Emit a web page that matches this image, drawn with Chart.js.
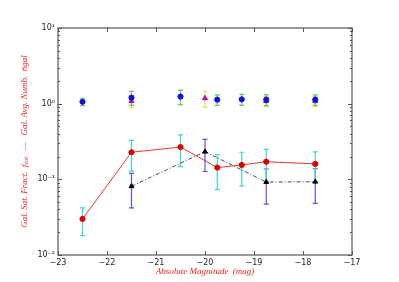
<!DOCTYPE html>
<html>
<head>
<meta charset="utf-8">
<script src="https://cdn.jsdelivr.net/npm/chart.js@4.4.1/dist/chart.umd.min.js"></script>
<style>
  html, body { margin: 0; padding: 0; background: #fff; }
  #wrap { width: 399px; height: 282px; }
</style>
</head>
<body>
<div id="wrap"><canvas id="c"></canvas></div>
<script>
// satellite fraction, circles (red)
const fracMag = [-22.5, -21.5, -20.5, -19.75, -19.25, -18.75, -17.75]
const fracVal = [0.030, 0.228, 0.267, 0.143, 0.155, 0.171, 0.160]
const fracErr = [0.012, 0.100, 0.120, 0.070, 0.073, 0.078, 0.070]

// satellite fraction, triangles (black dash-dot)
const fracTriMag = [-21.5, -20.0, -18.75, -17.75]
const fracTriVal = [0.081, 0.232, 0.092, 0.093]
const fracTriErr = [0.039, 0.105, 0.045, 0.045]

// average galaxy number, circles (blue)
const numMag = [-22.5, -21.5, -20.5, -19.75, -19.25, -18.75, -17.75]
const numVal = [1.06, 1.20, 1.24, 1.13, 1.14, 1.13, 1.13]
const numErr = [0.12, 0.25, 0.27, 0.18, 0.19, 0.19, 0.18]

// average galaxy number, triangles (purple)
const numTriMag = [-21.5, -20.0, -18.75, -17.75]
const numTriVal = [1.08, 1.18, 1.08, 1.08]
const numTriErr = [0.20, 0.28, 0.17, 0.17]

const xTicks = [-23, -22, -21, -20, -19, -18, -17]
const yTicks = [0.01, 0.1, 1, 10]
const yTickLabels = ['10\u207B\u00B2', '10\u207B\u00B9', '10\u2070', '10\u00B9']

const pts = (xs, ys) => xs.map((x, i) => ({ x: x, y: ys[i] }))

// draws vertical error bars with caps, behind the markers
const errorBars = {
  id: 'errorBars',
  beforeDatasetsDraw(chart) {
    const ctx = chart.ctx
    const xs = chart.scales.x, ys = chart.scales.y
    chart.data.datasets.forEach(ds => {
      if (!ds.errors) return
      ctx.save()
      ctx.strokeStyle = ds.errorColor
      ctx.lineWidth = 1.2
      ds.data.forEach((p, i) => {
        const e = ds.errors[i]
        const px = xs.getPixelForValue(p.x)
        const top = ys.getPixelForValue(p.y + e)
        const bot = ys.getPixelForValue(Math.max(p.y - e, 0.0011))
        ctx.beginPath()
        ctx.moveTo(px, top); ctx.lineTo(px, bot)
        ctx.moveTo(px - 2.5, top); ctx.lineTo(px + 2.5, top)
        ctx.moveTo(px - 2.5, bot); ctx.lineTo(px + 2.5, bot)
        ctx.stroke()
      })
      ctx.restore()
    })
  }
}

// matplotlib-like frame with inward ticks on all four sides
const frame = {
  id: 'frame',
  afterDraw(chart) {
    const ctx = chart.ctx
    const a = chart.chartArea
    const xs = chart.scales.x, ys = chart.scales.y
    ctx.save()
    ctx.strokeStyle = '#555'
    ctx.lineWidth = 1
    ctx.beginPath()
    xTicks.forEach(v => {
      const px = Math.round(xs.getPixelForValue(v)) + 0.5
      ctx.moveTo(px, a.bottom); ctx.lineTo(px, a.bottom - 4)
      ctx.moveTo(px, a.top); ctx.lineTo(px, a.top + 4)
    })
    for (let d = -2; d <= 1; d++) {
      for (let m = 1; m <= 9; m++) {
        const v = m * Math.pow(10, d)
        if (v > 10) break
        const len = m === 1 ? 4 : 2
        const py = Math.round(ys.getPixelForValue(v)) + 0.5
        ctx.moveTo(a.left, py); ctx.lineTo(a.left + len, py)
        ctx.moveTo(a.right, py); ctx.lineTo(a.right - len, py)
      }
    }
    ctx.stroke()
    ctx.lineWidth = 1.2
    ctx.strokeRect(a.left, a.top, a.right - a.left, a.bottom - a.top)
    ctx.restore()
  }
}

const ctx = document.getElementById('c')

new Chart(ctx, {
  type: 'line',
  data: {
    datasets: [{
      data: pts(numTriMag, numTriVal),
      errors: numTriErr,
      errorColor: '#e0e050',
      showLine: false,
      pointStyle: 'triangle',
      pointRadius: 3,
      pointBackgroundColor: '#a0209a',
      pointBorderColor: '#a0209a',
      order: 4
    }, {
      data: pts(numMag, numVal),
      errors: numErr,
      errorColor: '#70c070',
      showLine: false,
      pointRadius: 2.6,
      pointBackgroundColor: '#1010dd',
      pointBorderColor: '#1010dd',
      order: 3
    }, {
      data: pts(fracTriMag, fracTriVal),
      errors: fracTriErr,
      errorColor: '#5555ee',
      borderColor: '#3c4a6a',
      borderWidth: 1,
      borderDash: [4, 2, 1, 2],
      pointStyle: 'triangle',
      pointRadius: 2.8,
      pointBackgroundColor: '#000',
      pointBorderColor: '#000',
      order: 1
    }, {
      data: pts(fracMag, fracVal),
      errors: fracErr,
      errorColor: '#40d8d0',
      borderColor: '#ee3333',
      borderWidth: 1,
      pointRadius: 2.6,
      pointBackgroundColor: '#dd0000',
      pointBorderColor: '#dd0000',
      order: 2
    }]
  },
  options: {
    responsive: true,
    maintainAspectRatio: false,
    animation: false,
    layout: { padding: { left: 19, right: 47, top: 28, bottom: 5 } },
    plugins: {
      legend: { display: false },
      tooltip: { enabled: false }
    },
    scales: {
      x: {
        type: 'linear',
        min: -23,
        max: -17,
        afterBuildTicks: s => { s.ticks = xTicks.map(v => ({ value: v })) },
        afterFit: s => { s.height = 22 },
        grid: { display: false, drawTicks: false },
        border: { display: false },
        ticks: {
          padding: 3,
          color: '#222',
          font: { family: 'DejaVu Sans', size: 8 },
          callback: v => String(v).replace('-', '\u2212')
        },
        title: {
          display: true,
          text: 'Absolute Magnitude  (mag)',
          color: '#ee2222',
          font: { family: 'Liberation Serif', size: 9, style: 'italic' },
          padding: { top: 3, bottom: 0 }
        }
      },
      y: {
        type: 'logarithmic',
        min: 0.01,
        max: 10,
        afterBuildTicks: s => { s.ticks = yTicks.map(v => ({ value: v, major: true })) },
        afterFit: s => { s.width = 39 },
        grid: { display: false, drawTicks: false },
        border: { display: false },
        ticks: {
          padding: 3,
          color: '#222',
          font: { family: 'DejaVu Sans', size: 8 },
          callback: (v) => yTickLabels[yTicks.indexOf(v)]
        },
        title: {
          display: true,
          text: 'Gal. Sat. Fract.  f\u209B\u2090\u209C   \u2014   Gal. Avg. Numb.  n\u0304gal',
          color: '#ee2222',
          font: { family: 'Liberation Serif', size: 9, style: 'italic' },
          padding: { top: 0, bottom: 2 }
        }
      }
    }
  },
  plugins: [errorBars, frame]
})
</script>
</body>
</html>
